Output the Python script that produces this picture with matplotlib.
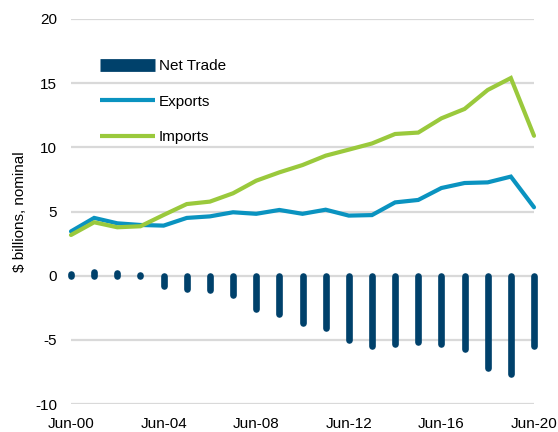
import matplotlib
matplotlib.use('Agg')
import matplotlib.pyplot as plt
from matplotlib.lines import Line2D

# data ($ billions, nominal), June of each year
years = list(range(2000, 2021))
exports = [3.45, 4.5, 4.08, 3.95, 3.9, 4.5, 4.62, 4.94, 4.82, 5.12, 4.82,
           5.14, 4.68, 4.72, 5.71, 5.9, 6.83, 7.22, 7.27, 7.72, 5.33]
imports = [3.17, 4.16, 3.77, 3.85, 4.73, 5.58, 5.77, 6.42, 7.4, 8.05, 8.62,
           9.35, 9.82, 10.3, 11.04, 11.15, 12.26, 12.99, 14.47, 15.4, 10.9]
net_trade = [0.1, 0.3, 0.2, 0.05, -0.8, -1.05, -1.1, -1.5, -2.6, -2.95, -3.7,
             -4.1, -5.05, -5.5, -5.3, -5.2, -5.3, -5.75, -7.2, -7.65, -5.5]
tick_years = [2000, 2004, 2008, 2012, 2016, 2020]
tick_labels = ['Jun-00', 'Jun-04', 'Jun-08', 'Jun-12', 'Jun-16', 'Jun-20']

NAVY = '#00416b'
BLUE = '#0a93c0'
GREEN = '#9ac93c'
GRID = '#d9d9d9'

plt.rcParams['font.family'] = ['Liberation Sans', 'DejaVu Sans']
plt.rcParams['axes.unicode_minus'] = False

fig = plt.figure(figsize=(5.58, 4.32), dpi=100)
ax = fig.add_axes([71/558, 28/432, 463/558, 385/432])

# net trade as round-ended bars, exports/imports as lines
ax.vlines(years, 0, net_trade, colors=NAVY, linewidth=4.8, capstyle='round',
          zorder=3, clip_on=False)
ax.plot(years, exports, color=BLUE, lw=3.0, solid_joinstyle='miter',
        solid_capstyle='round', zorder=4, clip_on=False)
ax.plot(years, imports, color=GREEN, lw=3.0, solid_joinstyle='miter',
        solid_capstyle='round', zorder=4, clip_on=False)

ax.set_xlim(2000, 2020)
ax.set_ylim(-10, 20)
ax.set_yticks([-10, -5, 0, 5, 10, 15, 20])
ax.set_xticks(tick_years)
ax.set_xticklabels(tick_labels)
ax.yaxis.grid(True, color=GRID, lw=1.6)
ax.set_axisbelow(True)
for s in ax.spines.values():
    s.set_visible(False)
ax.tick_params(length=0, labelsize=11, colors='black')
ax.tick_params(axis='y', pad=10)
ax.tick_params(axis='x', pad=9.5)
ax.set_ylabel(r'\$ billions, nominal', fontsize=11)
ax.yaxis.set_label_coords(-0.096, 0.5)

handles = [Line2D([], [], color=NAVY, lw=9.2, solid_capstyle='butt'),
           Line2D([], [], color=BLUE, lw=3.0, solid_capstyle='butt'),
           Line2D([], [], color=GREEN, lw=3.0, solid_capstyle='butt')]
ax.legend(handles, ['Net Trade', 'Exports', 'Imports'], loc='upper left',
          bbox_to_anchor=(100/558, 1 - 59/432), bbox_transform=fig.transFigure,
          frameon=False, fontsize=11, handlelength=3.6, handletextpad=0.25,
          labelspacing=1.42, borderpad=0, borderaxespad=0)

fig.savefig('out.png', dpi=100)
